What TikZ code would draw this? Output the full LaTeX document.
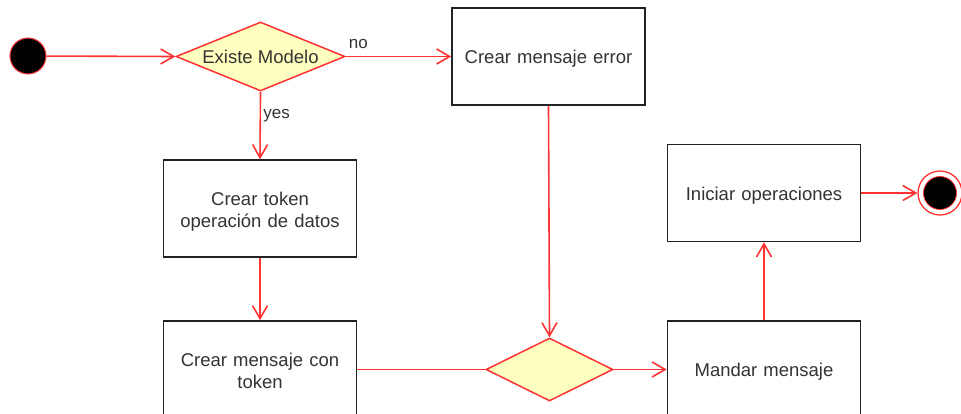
\documentclass[tikz,border=0pt]{standalone}
\usepackage{fontspec}
\setmainfont{Liberation Sans}
\usetikzlibrary{arrows.meta,shapes.geometric}
\definecolor{flowred}{HTML}{FF3333}
\definecolor{boxline}{HTML}{222222}
\definecolor{txt}{HTML}{333333}
\definecolor{decfill}{HTML}{FFFFC0}
\begin{document}
\begin{tikzpicture}[x=1pt,y=-1pt,
  every node/.style={font=\fontsize{18.5}{22}\selectfont, text=txt},
  action/.style={draw=boxline, line width=1.6pt, fill=white, minimum width=193pt,
    minimum height=97pt, inner sep=0pt},
  boxtext/.style={align=center, inner sep=0pt, text width=185pt},
  decision/.style={diamond, aspect=2.45, draw=flowred, line width=1.5pt, fill=decfill, inner sep=0pt},
  flow/.style={draw=flowred, line width=1.6pt, -{Straight Barb[length=13pt,width=15pt,line width=1.6pt]}},
  plain/.style={draw=flowred, line width=1.6pt},
  lbl/.style={font=\fontsize{17}{20}\selectfont}]
\useasboundingbox (0,0) rectangle (961,414);
% initial state
\node[circle, fill=black, draw=flowred, line width=1pt, minimum size=36pt, inner sep=0pt] (start) at (28,56) {};
% decision on the model
\node[decision, minimum width=169pt, minimum height=69pt] (exists) at (260.5,56.5) {Existe Modelo};
% action boxes
\node[action] (err) at (548.5,56.5) {};
\node[action] (token) at (260,208.5) {};
\node[action] (msg) at (260,369.5) {};
\node[decision, minimum width=127pt, minimum height=63pt] (merge) at (549.5,369.5) {};
\node[action] (send) at (764,369.5) {};
\node[action] (ops) at (764,193) {};
% their texts
\node[boxtext] (errtext) at ([yshift=-2.5pt]err.center) {Crear mensaje error};
\node[boxtext] (tokentext) at ([yshift=-3pt]token.center) {Crear token\\operación de datos};
\node[boxtext] (msgtext) at ([yshift=-1pt]msg.center) {Crear mensaje con\\token};
\node[boxtext] (sendtext) at ([yshift=-2.5pt]send.center) {Mandar mensaje};
\node[boxtext] (opstext) at ([yshift=-2.5pt]ops.center) {Iniciar operaciones};
% final state
\node[circle, draw=flowred, line width=1.3pt, minimum size=44pt, inner sep=0pt] (end) at (940,193) {};
\node[circle, fill=black, draw=flowred, line width=0.8pt, minimum size=33pt, inner sep=0pt] (endin) at (end.center) {};
% connectors
\draw[flow] (start) -- (exists.west);
\draw[flow] (exists.east) -- node[lbl, above, pos=0.12, yshift=4pt] {no} (err.west);
\draw[flow] (exists.south) -- node[lbl, right, pos=0.33, xshift=-1pt, yshift=-2pt] {yes} (token.north);
\draw[flow] (token.south) -- (msg.north);
\draw[flow] (err.south) -- (merge.north);
\draw[plain] (msg.east) -- (merge.west);
\draw[flow] (merge.east) -- (send.west);
\draw[flow] (send.north) -- (ops.south);
\draw[flow] (ops.east) -- (end.west);
\end{tikzpicture}
\end{document}
